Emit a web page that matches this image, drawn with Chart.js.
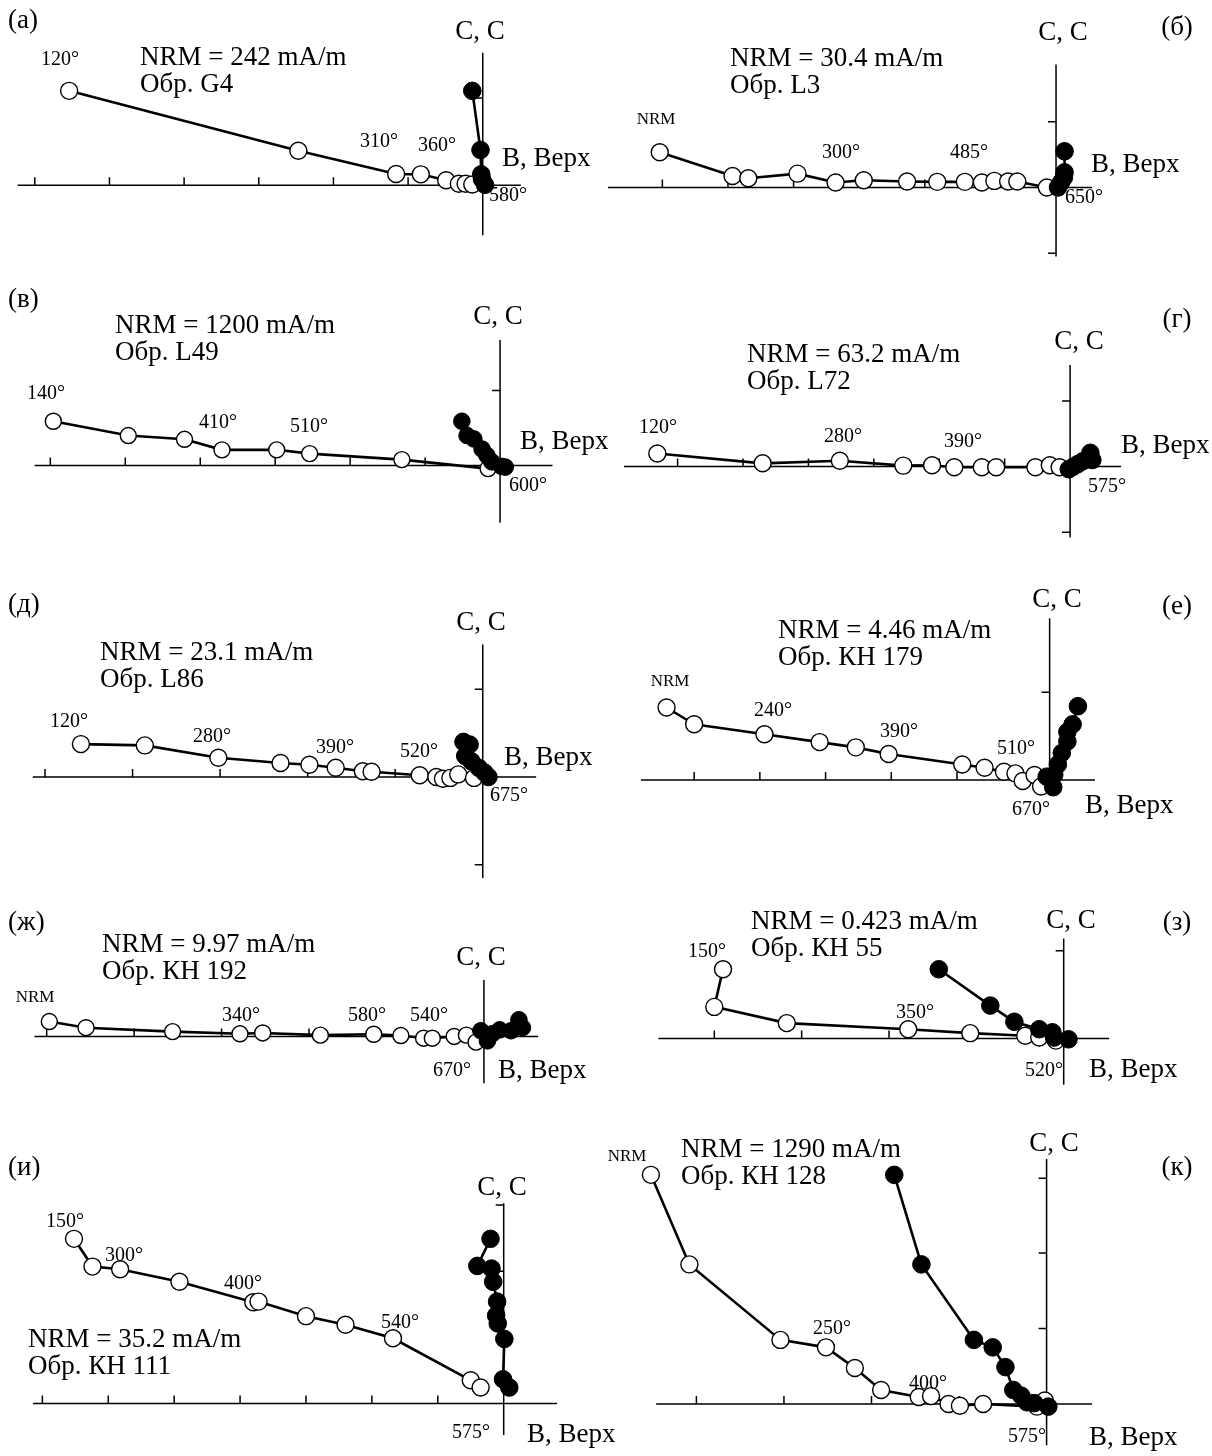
<!DOCTYPE html>
<html>
<head>
<meta charset="utf-8">
<script src="https://cdn.jsdelivr.net/npm/chart.js@4/dist/chart.umd.min.js"></script>
<style>
html,body{margin:0;padding:0;background:#fff;}
canvas{display:block;}
</style>
</head>
<body>
<canvas id="c" width="1212" height="1456"></canvas>
<script>
// ---------------- DATA ----------------
// panel letters, NRM intensities and sample names
const panelLetters = ['а','б','в','г','д','е','ж','з','и','к'];
const nrmValues = ['242','30.4','1200','63.2','23.1','4.46','9.97','0.423','35.2','1290'];
const sampleNames = ['G4','L3','L49','L72','L86','КН 179','КН 192','КН 55','КН 111','КН 128'];

// each panel: horizontal projection (open circles) and vertical projection (filled circles),
// values in units of the axis tick interval, [east/west component, north/up component]
const a_open   = [[-5.54,1.26],[-2.47,0.46],[-1.16,0.15],[-0.83,0.145],[-0.49,0.066],[-0.32,0.02],[-0.23,0.02],[-0.14,0.01]];
const a_filled = [[-0.14,1.26],[-0.03,0.47],[-0.02,0.145],[-0.01,0.08],[0.03,0.005]];
const a_xTicks = [-6,-5,-4,-3,-2,-1];
const a_yTicks = [1.165];

const b_open   = [[-6.04,0.535],[-4.93,0.175],[-4.69,0.14],[-3.94,0.21],[-3.36,0.075],[-2.93,0.11],[-2.27,0.09],[-1.81,0.085],[-1.39,0.085],[-1.13,0.075],[-0.94,0.10],[-0.73,0.09],[-0.59,0.09],[-0.14,0.0]];
const b_filled = [[0.13,0.55],[0.13,0.23],[0.12,0.15],[0.075,0.075],[0.03,0.0]];
const b_xTicks = [-6,-5,-4,-3,-2,-1];
const b_yTicks = [1,-1];

const v_open   = [[-5.96,0.59],[-4.96,0.40],[-4.21,0.35],[-3.71,0.21],[-2.98,0.21],[-2.54,0.16],[-1.31,0.08],[-0.16,-0.04]];
const v_filled = [[-0.51,0.59],[-0.44,0.40],[-0.35,0.355],[-0.24,0.22],[-0.175,0.135],[-0.11,0.05],[0.02,-0.01],[0.07,-0.02]];
const v_xTicks = [-6,-5,-4,-3,-2,-1];
const v_yTicks = [1];

const g_open   = [[-6.31,0.2],[-4.70,0.05],[-3.52,0.09],[-2.55,0.015],[-2.11,0.02],[-1.77,-0.01],[-1.35,-0.01],[-1.13,-0.01],[-0.53,-0.01],[-0.31,0.02],[-0.16,-0.01]];
const g_filled = [[0.31,0.21],[0.34,0.1],[0.19,0.08],[0.12,0.04],[0.05,0.0],[-0.02,-0.04]];
const g_xTicks = [-6,-5,-4,-3,-2,-1];
const g_yTicks = [1,-1];

const d_open   = [[-4.59,0.375],[-3.86,0.36],[-3.02,0.22],[-2.31,0.16],[-1.98,0.14],[-1.68,0.105],[-1.37,0.065],[-1.27,0.06],[-0.72,0.02],[-0.53,0.0],[-0.455,-0.02],[-0.37,-0.01],[-0.28,0.03],[-0.1,-0.01]];
const d_filled = [[-0.22,0.40],[-0.15,0.37],[-0.2,0.24],[-0.13,0.18],[-0.045,0.105],[0.02,0.05],[0.065,0.0]];
const d_xTicks = [-5,-4,-3,-2,-1];
const d_yTicks = [1,-1];

const e_open   = [[-5.83,1.10],[-5.41,0.845],[-4.34,0.695],[-3.50,0.575],[-2.95,0.495],[-2.45,0.395],[-1.33,0.235],[-0.99,0.185],[-0.695,0.125],[-0.52,0.10],[-0.41,-0.015],[-0.23,0.075],[-0.13,-0.10]];
const e_filled = [[0.43,1.12],[0.35,0.845],[0.27,0.73],[0.27,0.585],[0.185,0.41],[0.125,0.235],[0.07,0.08],[-0.045,0.05],[0.055,-0.11]];
const e_xTicks = [-5.41,-4.41,-3.41,-2.41,-1.41,-0.41];
const e_yTicks = [1.33];

const zh_open   = [[-4.97,0.17],[-4.55,0.10],[-3.56,0.055],[-2.79,0.03],[-2.53,0.04],[-1.87,0.015],[-1.26,0.025],[-0.95,0.01],[-0.69,-0.02],[-0.59,-0.02],[-0.34,0.0],[-0.20,0.015],[-0.09,-0.065]];
const zh_filled = [[0.40,0.19],[0.44,0.10],[0.31,0.065],[0.18,0.075],[0.095,0.03],[-0.035,0.065],[0.04,-0.05]];
const zh_xTicks = [-5,-4,-3,-2,-1];
const zh_yTicks = [];

const z_open   = [[-3.90,0.79],[-4.0,0.36],[-3.17,0.175],[-1.78,0.105],[-1.07,0.06],[-0.44,0.03],[-0.28,0.01],[-0.09,-0.025]];
const z_filled = [[-1.43,0.79],[-0.84,0.375],[-0.565,0.19],[-0.28,0.105],[-0.13,0.07],[-0.11,0.01],[0.055,-0.01]];
const z_xTicks = [-4,-3,-2,-1];
const z_yTicks = [1];

const i_open   = [[-6.52,2.49],[-6.24,2.07],[-5.82,2.03],[-4.92,1.84],[-3.80,1.53],[-3.72,1.54],[-3.0,1.32],[-2.40,1.19],[-1.68,0.985],[-0.50,0.35],[-0.35,0.24]];
const i_filled = [[-0.20,2.49],[-0.40,2.08],[-0.185,2.04],[-0.16,1.84],[-0.10,1.54],[-0.115,1.33],[-0.09,1.21],[0.01,0.975],[-0.01,0.365],[0.085,0.24]];
const i_xTicks = [-7,-6,-5,-4,-3,-2,-1];
const i_yTicks = [1,2,3];

const k_open   = [[-4.52,2.61],[-4.08,1.59],[-3.04,0.73],[-2.52,0.645],[-2.19,0.41],[-1.89,0.16],[-1.46,0.08],[-1.32,0.09],[-1.12,0.0],[-0.99,-0.02],[-0.725,0.0],[-0.11,-0.03],[-0.02,0.04]];
const k_filled = [[-1.74,2.61],[-1.43,1.59],[-0.83,0.73],[-0.615,0.645],[-0.47,0.42],[-0.38,0.16],[-0.29,0.095],[-0.225,0.02],[-0.14,0.01],[0.02,-0.03]];
const k_xTicks = [-4,-3,-2,-1];
const k_yTicks = [0.86,1.72,2.57];

const axisNorth = 'С, С';
const axisEast = 'В, Верх';

// ---------------- LAYOUT ----------------
const W = 1212, H = 1456;
const FONT = "'Liberation Serif','Times New Roman',Times,serif";
const SIZE = {big: 27, deg: 20, small: 17};
const TICK = 8;

// ox, oy: origin in page pixels; unit: pixels per tick interval; hx / vy: extents of the axes
const panels = [
 {open:a_open, filled:a_filled, xt:a_xTicks, yt:a_yTicks, ox:480.7, oy:177.7, unit:75.9, hx:[-6.23,0.51], vy:[-0.67,1.77], r:8.5,
  letter:[8,21,'left'], nrm:[140,58], north:[480,32], east:[502,159],
  marks:[['120°',60,60],['310°',379,142],['360°',437,146],['580°',508,196]]},
 {open:b_open, filled:b_filled, xt:b_xTicks, yt:b_yTicks, ox:1063.5, oy:180, unit:66.7, hx:[-6.83,0.55], vy:[-1.05,1.87], r:8.5,
  letter:[1177,28,'center'], nrm:[730,59], north:[1063,33], east:[1091,165],
  marks:[['NRM',656,120,'small'],['300°',841,153],['485°',969,153],['650°',1084,198]]},
 {open:v_open, filled:v_filled, xt:v_xTicks, yt:v_yTicks, ox:498.3, oy:462, unit:76.2, hx:[-6.21,0.70], vy:[-0.76,1.67], r:8,
  letter:[8,300,'left'], nrm:[115,326], north:[498,317], east:[520,442],
  marks:[['140°',46,394],['410°',218,423],['510°',309,427],['600°',528,486]]},
 {open:g_open, filled:g_filled, xt:g_xTicks, yt:g_yTicks, ox:1077.8, oy:463, unit:66.5, hx:[-6.82,0.78], vy:[-1.08,1.55], r:8.5,
  letter:[1177,320,'center'], nrm:[747,355], north:[1079,342], east:[1121,446],
  marks:[['120°',658,428],['280°',843,437],['390°',963,442],['575°',1107,487]]},
 {open:d_open, filled:d_filled, xt:d_xTicks, yt:d_yTicks, ox:480.7, oy:777.7, unit:89, hx:[-5.14,0.61], vy:[-1.15,1.51], r:8.5,
  letter:[8,605,'left'], nrm:[100,653], north:[481,623], east:[504,758],
  marks:[['120°',69,722],['280°',212,737],['390°',335,748],['520°',419,752],['675°',509,796]]},
 {open:e_open, filled:e_filled, xt:e_xTicks, yt:e_yTicks, ox:1057, oy:780.7, unit:66.8, hx:[-6.22,0.69], vy:[-0.05,2.455], r:8.5,
  letter:[1177,607,'center'], nrm:[778,631], north:[1057,600], east:[1085,806],
  marks:[['NRM',670,682,'small'],['240°',773,711],['390°',899,732],['510°',1016,749],['670°',1031,810]]},
 {open:zh_open, filled:zh_filled, xt:zh_xTicks, yt:zh_yTicks, ox:481.9, oy:1040.7, unit:88.9, hx:[-5.14,0.62], vy:[-0.535,0.645], r:8,
  letter:[8,923,'left'], nrm:[102,945], north:[481,958], east:[498,1071],
  marks:[['NRM',35,998,'small'],['340°',241,1016],['580°',367,1016],['540°',429,1016],['670°',452,1071]]},
 {open:z_open, filled:z_filled, xt:z_xTicks, yt:z_yTicks, ox:1071.3, oy:1042.7, unit:88.8, hx:[-4.64,0.52], vy:[-0.53,1.14], r:8.5,
  letter:[1177,923,'center'], nrm:[751,922], north:[1071,921], east:[1089,1070],
  marks:[['150°',707,952],['350°',915,1013],['520°',1044,1071]]},
 {open:i_open, filled:i_filled, xt:i_xTicks, yt:i_yTicks, ox:502, oy:1412.7, unit:67, hx:[-7.14,0.81], vy:[-0.48,3.03], r:8.5,
  letter:[8,1168,'left'], nrm:[28,1340], north:[502,1188], east:[527,1435],
  marks:[['150°',65,1222],['300°',124,1256],['400°',243,1284],['540°',400,1323],['575°',471,1433]]},
 {open:k_open, filled:k_filled, xt:k_xTicks, yt:k_yTicks, ox:1053.9, oy:1413.3, unit:89, hx:[-4.46,0.52], vy:[-0.47,2.79], r:8.5,
  letter:[1177,1168,'center'], nrm:[681,1150], north:[1054,1144], east:[1089,1438],
  marks:[['NRM',627,1157,'small'],['250°',832,1329],['400°',928,1384],['575°',1027,1437]]}
];

// ---------------- CHART ----------------
const scales = {
  x: {type:'linear', display:false},
  y: {type:'linear', display:false}
};
const datasets = [];
panels.forEach((p, i) => {
  scales['x' + i] = {type:'linear', display:false, min:(0 - p.ox) / p.unit, max:(W - p.ox) / p.unit};
  scales['y' + i] = {type:'linear', display:false, min:(p.oy - H) / p.unit, max:p.oy / p.unit};
  datasets.push({
    label:'(' + panelLetters[i] + ') horizontal',
    data:p.open.map(([x, y]) => ({x, y})),
    xAxisID:'x' + i, yAxisID:'y' + i,
    showLine:true, borderColor:'#000', borderWidth:2.6, tension:0,
    pointRadius:p.r, pointBackgroundColor:'#fff', pointBorderColor:'#000', pointBorderWidth:1.4,
    order:2, clip:false
  });
  datasets.push({
    label:'(' + panelLetters[i] + ') vertical',
    data:p.filled.map(([x, y]) => ({x, y})),
    xAxisID:'x' + i, yAxisID:'y' + i,
    showLine:true, borderColor:'#000', borderWidth:2.6, tension:0,
    pointRadius:p.r + 0.3, pointBackgroundColor:'#000', pointBorderColor:'#000', pointBorderWidth:1,
    order:1, clip:false
  });
});

const zijdPlugin = {
  id:'zijd',
  beforeDatasetsDraw(chart) {
    const ctx = chart.ctx;
    ctx.save();
    ctx.strokeStyle = '#000';
    ctx.lineWidth = 1.5;
    panels.forEach((p, i) => {
      const xs = chart.scales['x' + i], ys = chart.scales['y' + i];
      const X0 = xs.getPixelForValue(0), Y0 = ys.getPixelForValue(0);
      ctx.beginPath();
      ctx.moveTo(xs.getPixelForValue(p.hx[0]), Y0);
      ctx.lineTo(xs.getPixelForValue(p.hx[1]), Y0);
      ctx.moveTo(X0, ys.getPixelForValue(p.vy[1]));
      ctx.lineTo(X0, ys.getPixelForValue(p.vy[0]));
      p.xt.forEach(t => { const X = xs.getPixelForValue(t); ctx.moveTo(X, Y0); ctx.lineTo(X, Y0 - TICK); });
      p.yt.forEach(t => { const Y = ys.getPixelForValue(t); ctx.moveTo(X0, Y); ctx.lineTo(X0 - TICK, Y); });
      ctx.stroke();
    });
    ctx.restore();
  },
  afterDatasetsDraw(chart) {
    const ctx = chart.ctx;
    ctx.save();
    ctx.fillStyle = '#000';
    ctx.textBaseline = 'middle';
    const put = (txt, x, y, align, size) => {
      ctx.font = size + 'px ' + FONT;
      ctx.textAlign = align;
      ctx.fillText(txt, x, y);
    };
    panels.forEach((p, i) => {
      put('(' + panelLetters[i] + ')', p.letter[0], p.letter[1], p.letter[2], SIZE.big);
      put('NRM = ' + nrmValues[i] + ' mA/m', p.nrm[0], p.nrm[1], 'left', SIZE.big);
      put('Обр. ' + sampleNames[i], p.nrm[0], p.nrm[1] + 27, 'left', SIZE.big);
      put(axisNorth, p.north[0], p.north[1], 'center', SIZE.big);
      put(axisEast, p.east[0], p.east[1], 'left', SIZE.big);
      p.marks.forEach(m => put(m[0], m[1], m[2], 'center', SIZE[m[3] || 'deg']));
    });
    ctx.restore();
  }
};

new Chart(document.getElementById('c'), {
  type:'scatter',
  data:{datasets},
  options:{
    responsive:false,
    animation:false,
    events:[],
    layout:{padding:0},
    scales,
    plugins:{legend:{display:false}, tooltip:{enabled:false}, title:{display:false}}
  },
  plugins:[zijdPlugin]
});
</script>
</body>
</html>
